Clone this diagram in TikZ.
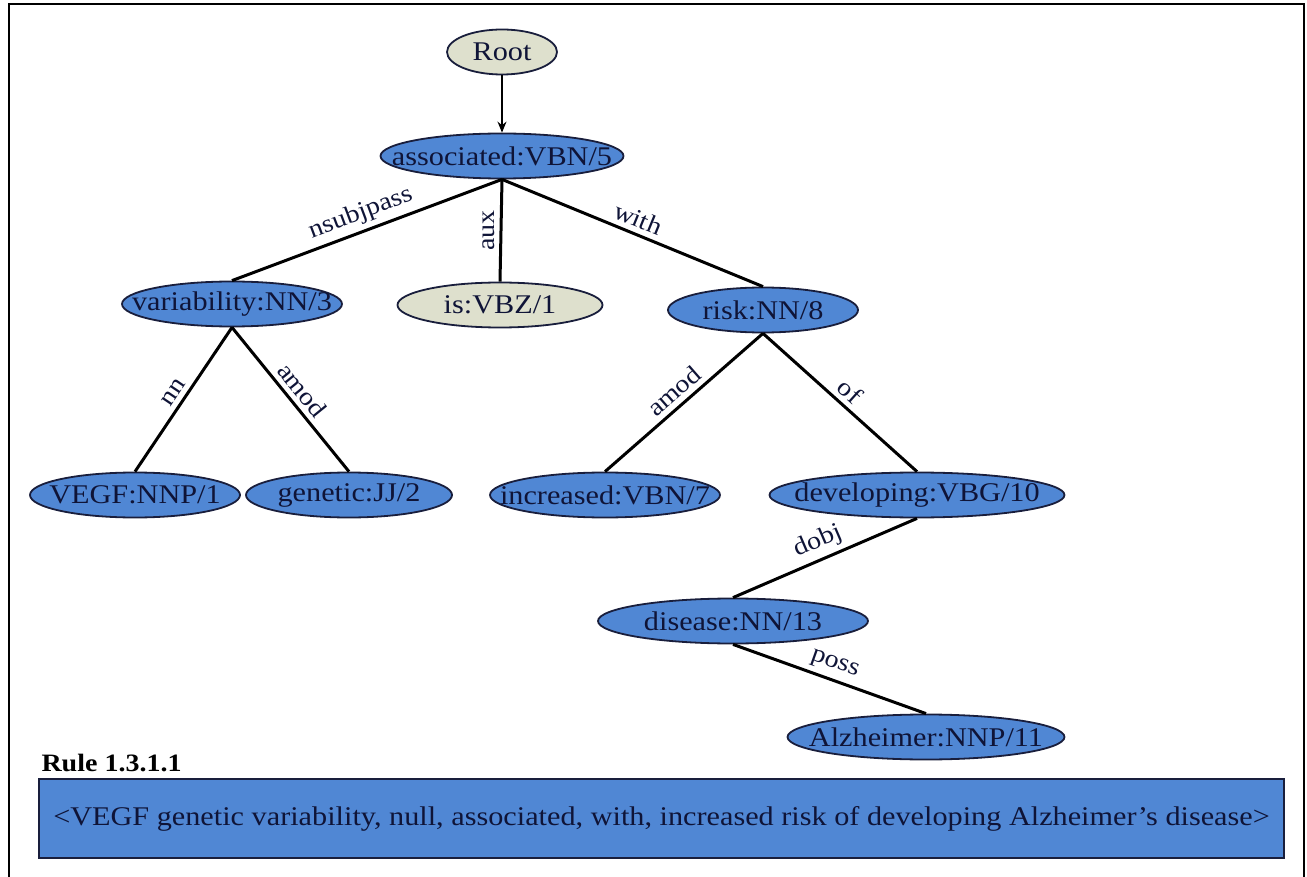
\documentclass[tikz,border=0pt]{standalone}
\usepackage{fontspec}
\setmainfont{Liberation Serif}[FakeStretch=1.12]
\usetikzlibrary{shapes.geometric,arrows.meta}
\definecolor{tokblue}{RGB}{80,135,212}
\definecolor{rootgrey}{RGB}{222,224,205}
\definecolor{inkline}{RGB}{25,30,60}
\definecolor{inktext}{RGB}{15,20,55}
% zero-width label so the ellipse size is set only by minimum width/height
\newcommand\tokl[1]{\makebox[0pt]{#1}}

\begin{document}
\begin{tikzpicture}[x=1pt,y=-1pt,
  tok/.style={ellipse, draw=inkline, line width=1.8pt, fill=tokblue,
    inner sep=0pt, minimum height=45pt, text=inktext,
    font=\fontsize{27}{30}\selectfont},
  tokgrey/.style={tok, fill=rootgrey},
  dep/.style={line width=3pt, black},
  deplabel/.style={midway, sloped, above, inner sep=5pt, text=inktext,
    font=\fontsize{25}{28}\selectfont},
]
\useasboundingbox (0,0) rectangle (1307,877);

% outer frame
\draw[line width=2.2pt] (9,877) -- (9,4) -- (1304,4) -- (1304,877);

% tokens
\node[tokgrey, minimum width=110pt] (root)   at (502,52)  {\tokl{Root}};
\node[tok, minimum width=243pt]     (assoc)  at (502,156) {\tokl{associated:VBN/5}};
\node[tok, minimum width=220pt]     (var)    at (232,304) {\tokl{variability:NN/3}};
\node[tokgrey, minimum width=205pt] (is)     at (500,305) {\tokl{is:VBZ/1}};
\node[tok, minimum width=190pt]     (risk)   at (763,310) {\tokl{risk:NN/8}};
\node[tok, minimum width=210pt]     (vegf)   at (135,495) {\tokl{VEGF:NNP/1}};
\node[tok, minimum width=206pt]     (gen)    at (349,495) {\tokl{genetic:JJ/2}};
\node[tok, minimum width=230pt]     (inc)    at (605,495) {\tokl{increased:VBN/7}};
\node[tok, minimum width=295pt]     (dev)    at (917,495) {\tokl{developing:VBG/10}};
\node[tok, minimum width=270pt]     (dis)    at (733,621) {\tokl{disease:NN/13}};
\node[tok, minimum width=277pt]     (alz)    at (926,737) {\tokl{Alzheimer:NNP/11}};

% root arrow
\draw[line width=1.4pt, -{Stealth[length=11pt,width=9pt]}] (root.south) -- (assoc.north);

% dependencies
\draw[dep] (assoc.south) -- node[deplabel] {nsubjpass} (var.north);
\draw[dep] (assoc.south) -- node[midway, rotate=90, anchor=south, inner sep=5pt,
  text=inktext, font=\fontsize{25}{28}\selectfont] {aux} (is.north);
\draw[dep] (assoc.south) -- node[deplabel] {with} (risk.north);
\draw[dep] (var.south) -- node[deplabel] {nn} (vegf.north);
\draw[dep] (var.south) -- node[deplabel] {amod} (gen.north);
\draw[dep] (risk.south) -- node[deplabel] {amod} (inc.north);
\draw[dep] (risk.south) -- node[deplabel] {of} (dev.north);
\draw[dep] (dev.south) -- node[deplabel] {dobj} (dis.north);
\draw[dep] (dis.south) -- node[deplabel] {poss} (alz.north);

% extracted rule
\node[anchor=base west, text=black, font=\bfseries\fontsize{25}{30}\selectfont]
  (rulehead) at (38,771) {Rule 1.3.1.1};
\node[draw=inkline, line width=2pt, fill=tokblue, anchor=north west,
  minimum width=1245pt, minimum height=79pt, inner sep=0pt, text=inktext,
  font=\fontsize{27}{30}\selectfont] (rulebox) at (38,778)
  {<VEGF genetic variability, null, associated, with, increased risk of developing Alzheimer's disease>};
\end{tikzpicture}
\end{document}
